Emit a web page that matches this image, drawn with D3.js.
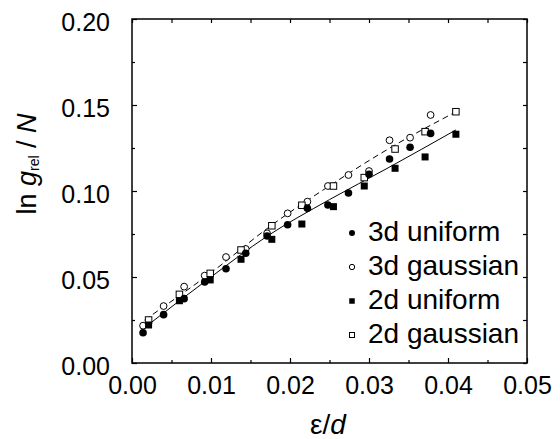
<!DOCTYPE html>
<html lang="en">
<head>
<meta charset="UTF-8">
<title>ln g_rel / N against eps/d</title>
<script src="https://cdn.jsdelivr.net/npm/d3@7/dist/d3.min.js"></script>
<style>
  body { margin: 0; background: #fff; }
  text { font-family: "Liberation Sans", Arial, sans-serif; fill: #000; }
</style>
</head>
<body>
<script>

let w = 560, h = 439;
let plotL = 132, plotR = 527, plotT = 19, plotB = 363;

// 3d runs share one set of x values, 2d runs another
let xCircles   = [0.0014, 0.0040, 0.0066, 0.0092, 0.0119, 0.0144, 0.0171, 0.0197, 0.0222, 0.0248, 0.0274, 0.0300, 0.0326, 0.0352, 0.0378];
let uniform3d  = [0.0176, 0.0281, 0.0374, 0.0471, 0.0548, 0.0638, 0.0738, 0.0804, 0.0899, 0.0919, 0.0988, 0.1097, 0.1186, 0.1254, 0.1335];
let gaussian3d = [0.0217, 0.0331, 0.0444, 0.0508, 0.0616, 0.0663, 0.0754, 0.0870, 0.0938, 0.1029, 0.1093, 0.1116, 0.1295, 0.1310, 0.1442];

let xSquares   = [0.0021, 0.0060, 0.0099, 0.0138, 0.0177, 0.0215, 0.0255, 0.0294, 0.0333, 0.0371, 0.0410];
let uniform2d  = [0.0221, 0.0362, 0.0483, 0.0603, 0.0719, 0.0808, 0.0909, 0.1029, 0.1132, 0.1198, 0.1330];
let gaussian2d = [0.0250, 0.0399, 0.0521, 0.0657, 0.0798, 0.0917, 0.1029, 0.1078, 0.1244, 0.1345, 0.1461];

// fit curves
let fitSolidX  = [0.0012, 0.0100, 0.0170, 0.0250, 0.0324, 0.0410];
let fitSolidY  = [0.0192, 0.0500, 0.0734, 0.0950, 0.1134, 0.1355];
let fitDashX   = [0.0016, 0.0100, 0.0177, 0.0250, 0.0322, 0.0412];
let fitDashY   = [0.0250, 0.0525, 0.0802, 0.1030, 0.1238, 0.1465];

let xTicks = [0, 0.01, 0.02, 0.03, 0.04, 0.05];
let yTicks = [0, 0.05, 0.10, 0.15, 0.20];
let xMinor = [0.005, 0.015, 0.025, 0.035, 0.045];
let yMinor = [0.025, 0.075, 0.125, 0.175];

let legendLabels = ["3d uniform", "3d gaussian", "2d uniform", "2d gaussian"];

let xScale = d3.scaleLinear().domain([0, 0.05]).range([plotL, plotR]);
let yScale = d3.scaleLinear().domain([0, 0.20]).range([plotB, plotT]);

let svg = d3.select("body").append("svg")
    .attr("width", w)
    .attr("height", h);

//axes: major ticks with labels, minor ticks without, all pointing inward
function strip(g) {
    g.attr("font-family", null).attr("font-size", null);
    g.select(".domain").remove();
    g.selectAll("line").attr("stroke", "#000").attr("stroke-width", 1.2);
    g.selectAll("text").style("font-size", "25px").attr("fill", "#000");
}

svg.append("g")
    .attr("transform", "translate(0," + plotB + ")")
    .call(d3.axisBottom(xScale).tickValues(xTicks).tickSize(-5).tickPadding(13).tickFormat(d3.format(".2f")))
    .call(strip);
svg.append("g")
    .attr("transform", "translate(0," + plotB + ")")
    .call(d3.axisBottom(xScale).tickValues(xMinor).tickSize(-3).tickFormat(""))
    .call(strip);
svg.append("g")
    .attr("transform", "translate(0," + plotT + ")")
    .call(d3.axisTop(xScale).tickValues(xTicks.concat(xMinor)).tickSize(-4).tickFormat(""))
    .call(strip);

svg.append("g")
    .attr("transform", "translate(" + plotL + ",0)")
    .call(d3.axisLeft(yScale).tickValues(yTicks).tickSize(-5).tickPadding(22).tickFormat(d3.format(".2f")))
    .call(strip)
    .selectAll("text").attr("dy", "0.45em");
svg.append("g")
    .attr("transform", "translate(" + plotL + ",0)")
    .call(d3.axisLeft(yScale).tickValues(yMinor).tickSize(-3).tickFormat(""))
    .call(strip);
svg.append("g")
    .attr("transform", "translate(" + plotR + ",0)")
    .call(d3.axisRight(yScale).tickValues(yTicks.concat(yMinor)).tickSize(-4).tickFormat(""))
    .call(strip);

svg.append("rect")
    .attr("x", plotL).attr("y", plotT)
    .attr("width", plotR - plotL).attr("height", plotB - plotT)
    .attr("fill", "none")
    .attr("stroke", "#000")
    .attr("stroke-width", 1.5);

// fit lines
let line = d3.line()
    .x(function(d) { return xScale(d[0]); })
    .y(function(d) { return yScale(d[1]); })
    .curve(d3.curveMonotoneX);

svg.append("path")
    .datum(d3.zip(fitSolidX, fitSolidY))
    .attr("d", line)
    .attr("fill", "none")
    .attr("stroke", "#000")
    .attr("stroke-width", 1);

svg.append("path")
    .datum(d3.zip(fitDashX, fitDashY))
    .attr("d", line)
    .attr("fill", "none")
    .attr("stroke", "#000")
    .attr("stroke-width", 1)
    .attr("stroke-dasharray", "6,4");

// markers
function circles(xs, ys, filled) {
    svg.append("g").selectAll("circle")
        .data(d3.zip(xs, ys))
        .enter()
        .append("circle")
        .attr("cx", function(d) { return xScale(d[0]); })
        .attr("cy", function(d) { return yScale(d[1]); })
        .attr("r", filled ? 3.8 : 3.4)
        .attr("fill", filled ? "#000" : "#fff")
        .attr("stroke", "#000")
        .attr("stroke-width", filled ? 0 : 1);
}
function squares(xs, ys, filled) {
    let s = filled ? 7 : 6.5;
    svg.append("g").selectAll("rect")
        .data(d3.zip(xs, ys))
        .enter()
        .append("rect")
        .attr("x", function(d) { return xScale(d[0]) - s / 2; })
        .attr("y", function(d) { return yScale(d[1]) - s / 2; })
        .attr("width", s)
        .attr("height", s)
        .attr("fill", filled ? "#000" : "#fff")
        .attr("stroke", "#000")
        .attr("stroke-width", filled ? 0 : 1);
}

circles(xCircles, gaussian3d, false);
squares(xSquares, gaussian2d, false);
circles(xCircles, uniform3d, true);
squares(xSquares, uniform2d, true);

// legend
let legend = svg.append("g").attr("transform", "translate(352,233)");
let rows = legend.selectAll("g")
    .data(legendLabels)
    .enter()
    .append("g")
    .attr("transform", function(d, i) { return "translate(0," + (i * 34) + ")"; });

rows.each(function(d, i) {
    let g = d3.select(this);
    let filled = (i % 2 == 0);
    if (i < 2) {
        g.append("circle").attr("r", filled ? 3 : 2.7)
            .attr("fill", filled ? "#000" : "#fff")
            .attr("stroke", "#000").attr("stroke-width", filled ? 0 : 1);
    } else {
        let s = filled ? 5.5 : 5;
        g.append("rect").attr("x", -s / 2).attr("y", -s / 2).attr("width", s).attr("height", s)
            .attr("fill", filled ? "#000" : "#fff")
            .attr("stroke", "#000").attr("stroke-width", filled ? 0 : 1);
    }
    g.append("text")
        .attr("x", 16)
        .attr("y", 8)
        .style("font-size", "28px")
        .text(d);
});

// axis titles
let xt = svg.append("text")
    .attr("x", 328)
    .attr("y", 434)
    .attr("text-anchor", "middle")
    .style("font-size", "28px");
xt.append("tspan").text("ε/");
xt.append("tspan").style("font-style", "italic").text("d");

let yt = svg.append("text")
    .attr("transform", "translate(36,164) rotate(-90)")
    .attr("text-anchor", "middle")
    .style("font-size", "27px");
yt.append("tspan").text("ln ");
yt.append("tspan").style("font-style", "italic").text("g");
yt.append("tspan").attr("dy", 3).style("font-size", "14px").text("rel");
yt.append("tspan").attr("dy", -3).text(" / ");
yt.append("tspan").style("font-style", "italic").text("N");

</script>
</body>
</html>
